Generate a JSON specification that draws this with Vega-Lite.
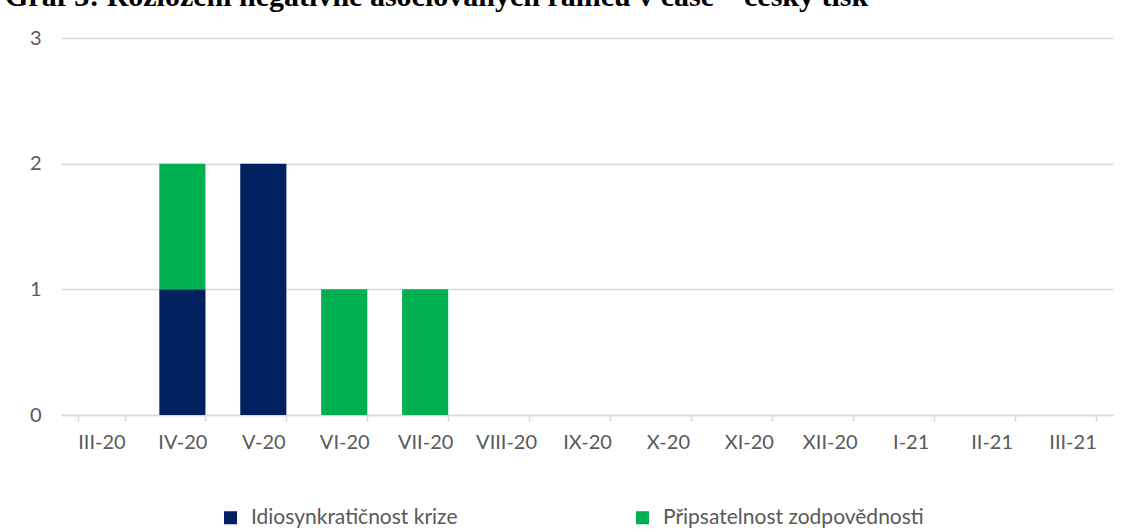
{
  "$schema": "https://vega.github.io/schema/vega-lite/v6.json",
  "autosize": {"type": "none"},
  "width": 1052,
  "height": 377,
  "padding": {"left": 61, "top": 38, "right": 19, "bottom": 115},
  "background": "white",
  "title": {
    "text": "Graf 3: Rozložení negativně asociovaných rámců v čase – český tisk",
    "anchor": "start",
    "frame": "group",
    "orient": "top",
    "font": "Liberation Serif",
    "fontSize": 30,
    "fontWeight": "bold",
    "color": "#000000",
    "baseline": "alphabetic",
    "dx": -56,
    "dy": 8,
    "offset": 0
  },
  "data": {
    "values": [
      {"mesic": "III-20", "ramec": "Idiosynkratičnost krize", "pocet": 0},
      {"mesic": "IV-20", "ramec": "Idiosynkratičnost krize", "pocet": 1},
      {"mesic": "IV-20", "ramec": "Připsatelnost zodpovědnosti", "pocet": 1},
      {"mesic": "V-20", "ramec": "Idiosynkratičnost krize", "pocet": 2},
      {"mesic": "VI-20", "ramec": "Připsatelnost zodpovědnosti", "pocet": 1},
      {"mesic": "VII-20", "ramec": "Připsatelnost zodpovědnosti", "pocet": 1},
      {"mesic": "VIII-20", "ramec": "Idiosynkratičnost krize", "pocet": 0},
      {"mesic": "IX-20", "ramec": "Idiosynkratičnost krize", "pocet": 0},
      {"mesic": "X-20", "ramec": "Idiosynkratičnost krize", "pocet": 0},
      {"mesic": "XI-20", "ramec": "Idiosynkratičnost krize", "pocet": 0},
      {"mesic": "XII-20", "ramec": "Idiosynkratičnost krize", "pocet": 0},
      {"mesic": "I-21", "ramec": "Idiosynkratičnost krize", "pocet": 0},
      {"mesic": "II-21", "ramec": "Idiosynkratičnost krize", "pocet": 0},
      {"mesic": "III-21", "ramec": "Idiosynkratičnost krize", "pocet": 0}
    ]
  },
  "mark": {"type": "bar"},
  "encoding": {
    "x": {
      "field": "mesic",
      "type": "nominal",
      "sort": ["III-20","IV-20","V-20","VI-20","VII-20","VIII-20","IX-20","X-20","XI-20","XII-20","I-21","II-21","III-21"],
      "scale": {
        "domain": ["III-20","IV-20","V-20","VI-20","VII-20","VIII-20","IX-20","X-20","XI-20","XII-20","I-21","II-21","III-21"],
        "paddingInner": 0.43,
        "paddingOuter": 0.215
      },
      "axis": {
        "title": null,
        "labelAngle": 0,
        "labelFont": "Lato",
        "labelFontSize": 20,
        "labelColor": "#595959",
        "labelPadding": 11,
        "domainColor": "#d9d9d9",
        "domainWidth": 1.5,
        "tickColor": "#d9d9d9",
        "tickWidth": 1.5,
        "tickSize": 6,
        "tickBand": "extent",
        "grid": false
      }
    },
    "y": {
      "field": "pocet",
      "type": "quantitative",
      "stack": "zero",
      "scale": {"domain": [0, 3]},
      "axis": {
        "title": null,
        "values": [0, 1, 2, 3],
        "format": "d",
        "labelFont": "Lato",
        "labelFontSize": 20,
        "labelColor": "#595959",
        "labelPadding": 20,
        "ticks": false,
        "domain": false,
        "gridColor": "#d9d9d9",
        "gridWidth": 1.5
      }
    },
    "color": {
      "field": "ramec",
      "type": "nominal",
      "scale": {
        "domain": ["Idiosynkratičnost krize", "Připsatelnost zodpovědnosti"],
        "range": ["#002060", "#00B050"]
      },
      "legend": {
        "title": null,
        "orient": "none",
        "legendX": 159,
        "legendY": 469,
        "direction": "horizontal",
        "symbolType": "square",
        "symbolSize": 169,
        "symbolStrokeWidth": 0,
        "labelFont": "Lato",
        "labelFontSize": 21,
        "labelColor": "#595959",
        "labelOffset": 10,
        "labelLimit": 400,
        "columnPadding": 174
      }
    },
    "order": {"field": "ramec", "sort": "ascending"}
  },
  "config": {"view": {"stroke": null}}
}
